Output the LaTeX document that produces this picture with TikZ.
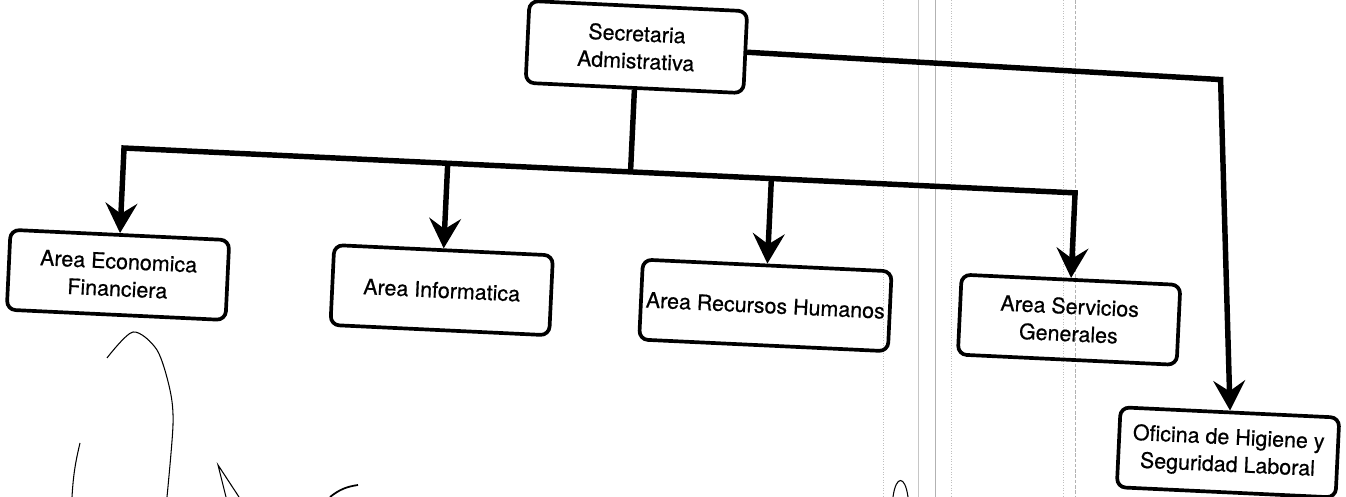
\documentclass[tikz,border=0pt]{standalone}
\usepackage{fontspec}
\setmainfont{TeX Gyre Heros}[FakeBold=0.6]
\usetikzlibrary{arrows.meta}
\usetikzlibrary{calc}

\tikzset{
unidad/.style={draw, line width=2.1pt, rounded corners=5pt, align=center,
  minimum width=4.38cm, minimum height=1.6cm, inner sep=2pt,
  font=\fontsize{12.2}{15.6}\selectfont},
enlace/.style={line width=3.1pt},
flecha/.style={enlace, -{Stealth[length=17pt, width=18pt, inset=6pt]}},
rayado/.style={line width=0.6pt}
}

\begin{document}
\begin{tikzpicture}
\useasboundingbox (0,0) rectangle (26.92,-9.94);
\draw[gray!45, line width=0.4pt] (18.36,0) -- (18.36,-9.94);
\draw[gray!60, line width=0.5pt] (18.7,0) -- (18.7,-9.94);
\draw[gray!60, line width=0.4pt, dash pattern=on 2pt off 1pt] (21.5,0) -- (21.5,-9.94);
\draw[gray!50, line width=0.5pt, densely dotted] (17.66,0) -- (17.66,-9.94);
\draw[gray!50, line width=0.5pt, densely dotted] (19.02,0) -- (19.02,-9.94);
\draw[gray!50, line width=0.5pt, densely dotted] (21.26,0) -- (21.26,-9.94);
\begin{scope}[shift={(13.46,-4.96)}, rotate=-2.7, transform shape, x=0.02cm, y=-0.02cm]
\node[unidad, minimum width=4.36cm, minimum height=1.64cm] (sec) at (-46,-199) {Secretaria\\Admistrativa};
\node[unidad] (eco) at (-553,53) {Area Economica\\Financiera};
\node[unidad] (inf) at (-229,53) {Area Informatica};
\node[unidad, minimum width=4.98cm] (rrhh) at (95,53) {Area Recursos Humanos};
\node[unidad] (srv) at (399,53) {Area Servicios\\Generales};
\node[unidad] (hig) at (564,178) {Oficina de Higiene y\\Seguridad Laboral};
\coordinate (barra) at (0,-74);
\coordinate (giro) at (539,-194);
\foreach \n in {sec,eco,inf,rrhh,srv}
  \coordinate (b-\n) at ($(\n.south)!(barra)!(\n.north)$);
\draw[enlace] (sec.south) -- (b-sec);
\draw[enlace, line cap=rect] (b-eco) -- (b-srv);
\foreach \n in {eco,inf,rrhh,srv}
  \draw[flecha] (b-\n) -- (\n.north);
\draw[flecha] (sec.east) -- (giro) -- (hig.north);
\end{scope}
\draw[rayado] plot[smooth] coordinates {(2.14,-7.16) (2.66,-6.64) (3.14,-7.0) (3.4,-7.8) (3.46,-8.5) (3.34,-9.94)};
\draw[rayado] (1.6,-8.86) to[bend right=5] (1.44,-9.94);
\draw[rayado] (4.52,-9.94) -- (4.36,-9.3) -- (4.78,-9.94);
\draw[line width=1pt] (7.16,-9.7) to[bend right=15] (6.6,-9.94);
\draw[rayado] (17.86,-9.94) .. controls (17.92,-9.5) and (18.1,-9.5) .. (18.16,-9.94);
\end{tikzpicture}
\end{document}
